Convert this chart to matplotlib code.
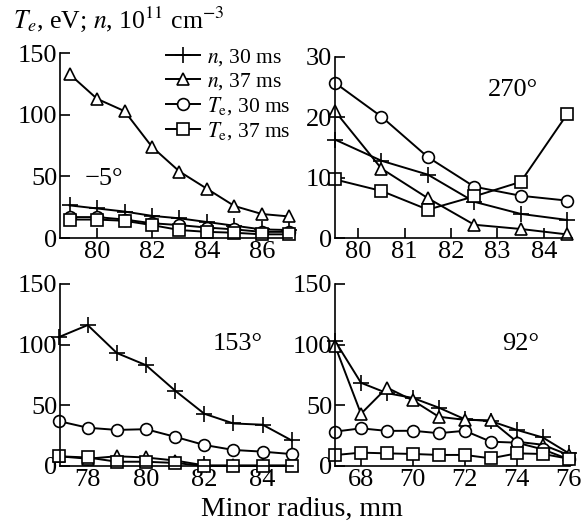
import matplotlib
matplotlib.use("Agg")
import matplotlib.pyplot as plt

plt.rcParams["font.family"] = ["Liberation Serif", "DejaVu Serif"]
plt.rcParams["mathtext.fontset"] = "stix"

# --- data ---
# top left, -5 deg
r_m5 = [79, 80, 81, 82, 83, 84, 85, 86, 87]
n30_m5 = [26.5, 24, 21.5, 18, 16, 13, 10, 7, 6.5]
n37_m5 = [133, 113, 103, 74, 54, 40, 26, 19.5, 17.5]
te30_m5 = [17, 17, 15, 12, 10.5, 8.5, 7, 5, 5]
te37_m5 = [15, 15, 14, 10.5, 6.5, 5, 4.3, 3, 3]

# top right, 270 deg
r_270 = [79.5, 80.5, 81.5, 82.5, 83.5, 84.5]
n30_270 = [16.3, 12.8, 10.5, 6.0, 4.0, 3.0]
n37_270 = [21.0, 11.5, 6.6, 2.2, 1.5, 0.6]
te30_270 = [25.7, 20.1, 13.4, 8.5, 7.0, 6.2]
te37_270 = [9.7, 7.8, 4.7, 6.9, 9.3, 20.5]

# bottom left, 153 deg
r_153 = [77, 78, 79, 80, 81, 82, 83, 84, 85]
n30_153 = [106, 116, 93, 83, 62, 43, 35, 34, 21]
n37_153 = [8, 6, 8, 7, 4.5, 0.5, 0.5, 0.5, 0.5]
te30_153 = [37, 31.5, 29.7, 30.3, 24, 17.3, 13.2, 11.8, 9.8]
te37_153 = [8, 7, 3.5, 3.5, 2.5, 0, 0, 0, 0]

# bottom right, 92 deg
r_92 = [67, 68, 69, 70, 71, 72, 73, 74, 75, 76]
n30_92 = [103, 68.5, 60, 56, 48, 38.5, 37, 29.7, 23.5, 10.5]
n37_92 = [99, 43, 64.5, 54, 40.5, 38, 37.5, 20, 17.5, 9]
te30_92 = [28.3, 31, 28.9, 29, 27, 29, 20, 19.2, 13.7, 5.5]
te37_92 = [9, 11, 10.4, 9.9, 9.1, 9.1, 6.3, 10.4, 9.9, 6]

labels = [r"$n$, 30 ms", r"$n$, 37 ms", r"$T_{\rm e}$, 30 ms", r"$T_{\rm e}$, 37 ms"]
markers = ["+", "^", "o", "s"]

fig = plt.figure(figsize=(5.86, 5.22), dpi=100)

panels = [
    # rect, x, series, xlim, ylim, xticks, yticks, angle label, label position
    ([0.1024, 0.544, 0.396, 0.354], r_m5, [n30_m5, n37_m5, te30_m5, te37_m5],
     (78.65, 87.1), (0, 150), [80, 82, 84, 86], [0, 50, 100, 150], "\u22125\u00b0", (0.19, 0.32)),
    ([0.5717, 0.544, 0.404, 0.347], r_270, [n30_270, n37_270, te30_270, te37_270],
     (79.5, 84.6), (0, 30), [80, 81, 82, 83, 84], [0, 10, 20, 30], "270\u00b0", (0.75, 0.82)),
    ([0.1024, 0.1073, 0.398, 0.349], r_153, [n30_153, n37_153, te30_153, te37_153],
     (77.05, 85.05), (0, 150), [78, 80, 82, 84], [0, 50, 100, 150], "153\u00b0", (0.76, 0.67)),
    ([0.5717, 0.1073, 0.401, 0.349], r_92, [n30_92, n37_92, te30_92, te37_92],
     (67, 76.05), (0, 150), [68, 70, 72, 74, 76], [0, 50, 100, 150], "92\u00b0", (0.79, 0.67)),
]

for i, (rect, x, series, xlim, ylim, xt, yt, angle, pos) in enumerate(panels):
    ax = fig.add_axes(rect)
    for y, m, lab in zip(series, markers, labels):
        ms = 11 if m == "+" else 8.5
        if m == "s":
            ms = 8
        ax.plot(x, y, color="black", lw=1.4, marker=m, ms=ms, mfc="white",
                mec="black", mew=1.2, label=lab, clip_on=False)
    ax.set_xlim(*xlim)
    ax.set_ylim(*ylim)
    ax.set_xticks(xt)
    ax.set_yticks(yt)
    ax.spines["top"].set_visible(False)
    ax.spines["right"].set_visible(False)
    for s in ("left", "bottom"):
        ax.spines[s].set_linewidth(1.2)
    ax.tick_params(direction="in", length=7, width=1.2, labelsize=19, pad=2)
    ax.text(pos[0], pos[1], angle, transform=ax.transAxes, fontsize=19,
            ha="center", va="center")
    if i == 0:
        ax.legend(loc="upper right", bbox_to_anchor=(1.03, 1.08), frameon=False,
                  fontsize=15.5, handlelength=1.6, handletextpad=0.3,
                  labelspacing=0.15, borderaxespad=0)

fig.text(0.022, 0.962, r"$T_e$, eV; $n$, 10$^{11}$ cm$^{-3}$", fontsize=18.5,
         ha="left", va="center")
fig.text(0.515, 0.025, "Minor radius, mm", fontsize=20, ha="center", va="center")

fig.savefig("out.png", dpi=100)
